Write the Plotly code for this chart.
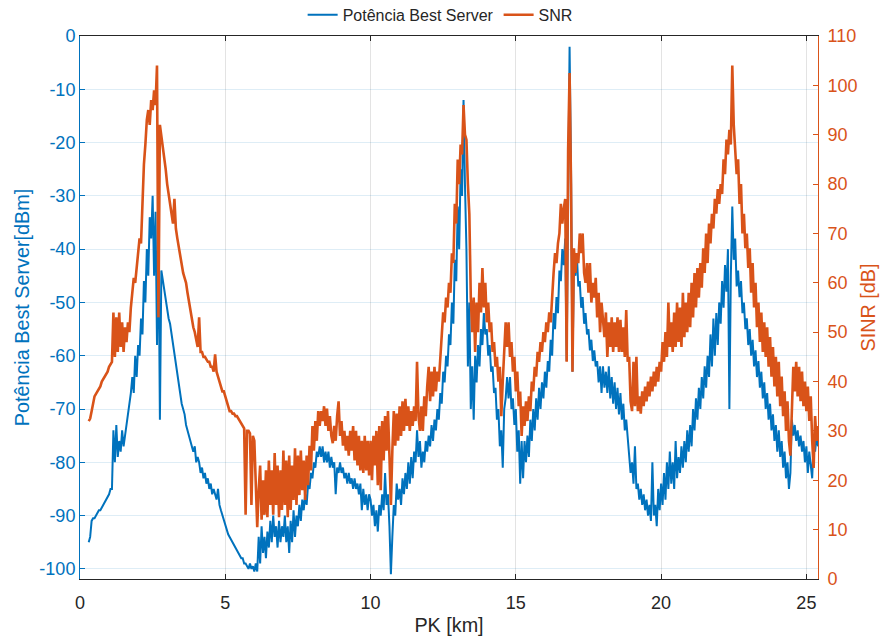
import plotly.graph_objects as go

# PK sampling grid (km), 0.30 ... 25.40
pk = [round(0.3 + 0.05 * i, 2) for i in range(503)]

# Potência Best Server [dBm]
potencia = [
    -95, -94, -91, -90.5, -90.5, -90, -89.5, -89, -89, -88.5, -88, -87.5, -87, -86.5,
    -86, -85, -85, -74, -80, -73, -79, -76, -78, -74, -77, -75, -73, -72, -70, -67, -64, -67, -60, -64,
    -58, -60, -53, -56, -46, -50, -40, -45, -34, -38, -30, -45, -33, -58, -36, -72, -44, -46, -48, -50,
    -51, -53, -54, -56, -58, -60, -62, -64, -65, -67, -69, -70, -71, -73, -74, -75, -76, -77, -78, -77,
    -80, -79, -80, -82, -81, -83, -82, -84, -83, -85, -84, -86, -85, -86, -87, -85, -88, -89, -90, -91,
    -92, -93, -93.5, -94, -94.5, -95, -95.5, -96, -96.5, -97, -97.5, -98, -98, -99, -99, -99.5, -100, -99, -100, -99.5,
    -100.5, -99, -100.5, -94, -99, -92, -97, -94, -98, -93, -96, -91, -95, -90, -94, -92, -96, -91, -95, -92,
    -94, -90, -95, -92, -97, -91, -95, -89, -94, -90, -92, -88, -91, -87, -89, -86, -88, -84, -85, -82,
    -83, -80, -81, -78, -79, -77, -79, -77, -80, -78, -80, -78, -81, -79, -81, -80, -86, -81, -82, -80,
    -82, -81, -83, -82, -84, -82, -84, -83, -85, -83, -85, -84, -86, -84, -89, -85, -88, -86, -89, -86,
    -87, -90, -88, -92, -89, -93, -88, -90, -86, -89, -82, -88, -86, -92, -101, -94, -88, -90, -84, -87,
    -85, -88, -83, -86, -82, -85, -80, -84, -79, -83, -78, -80, -74, -79, -76, -81, -78, -80, -76, -78,
    -75, -77, -73, -76, -72, -74, -70, -72, -67, -69, -63, -65, -60, -62, -56, -58, -50, -54, -42, -46,
    -32, -40, -25, -30, -12, -28, -40, -62, -50, -70, -62, -72, -60, -65, -58, -62, -55, -58, -52, -56,
    -55, -60, -58, -63, -62, -67, -66, -72, -70, -77, -74, -81, -70, -68, -64, -68, -64, -70, -68, -73,
    -70, -78, -74, -84, -76, -83, -76, -80, -75, -79, -72, -76, -70, -74, -68, -72, -66, -70, -65, -68,
    -63, -66, -61, -63, -57, -60, -52, -55, -49, -52, -44, -46, -40, -43, -38, -61, -30, -2, -25, -63,
    -42, -45, -41, -47, -46, -51, -49, -54, -52, -56, -55, -59, -57, -61, -59, -62, -61, -65, -62, -67,
    -62, -66, -63, -67, -62, -68, -64, -69, -65, -70, -66, -71, -67, -72, -69, -74, -72, -76, -78, -82,
    -80, -84, -77, -85, -84, -87, -85, -88, -86, -89, -87, -90, -88, -91, -80, -90, -88, -92, -85, -89,
    -84, -88, -82, -87, -80, -85, -78, -84, -80, -85, -76, -83, -79, -82, -77, -81, -76, -80, -74, -78,
    -73, -77, -70, -74, -68, -72, -66, -70, -64, -68, -62, -66, -60, -64, -56, -62, -53, -60, -52, -58,
    -50, -54, -46, -51, -43, -48, -40, -70, -45, -32, -42, -38, -47, -44, -49, -46, -52, -50, -55, -53,
    -58, -55, -60, -57, -62, -59, -64, -61, -66, -63, -68, -65, -70, -67, -72, -69, -74, -71, -76, -73,
    -78, -74, -79, -76, -81, -78, -83, -80, -85, -82, -72, -75, -73, -76, -74, -77, -75, -78, -76, -80,
    -77, -82, -78, -80, -83, -76, -78, -75, -77,
]

# SNR [dB]
snr = [
    32, 32.5, 34, 36, 37, 37.5, 38, 38.5, 39, 40, 40.5, 41, 41.5, 42,
    43, 43.5, 44, 54, 45, 53, 46, 54, 47, 52, 46, 51, 48, 52, 50, 55, 59, 61, 60, 63,
    66, 69, 68, 78, 84, 88, 93, 95, 92, 97, 95, 99, 96, 104, 53, 92, 90, 88, 85, 83,
    80, 78, 77, 75, 72, 77, 71, 69, 67, 66, 64, 62, 61, 60, 58, 56, 54, 53, 51, 50,
    48, 47, 53, 46, 46, 45, 45, 44.5, 44, 44, 43, 43, 42, 45.5, 42, 41, 40, 39, 38, 38,
    37, 36, 34.5, 34, 34, 33.5, 33.5, 33, 33, 32.5, 32, 31.5, 31, 30.5, 13, 30, 30, 29.5, 15, 29,
    28, 20, 10.5, 18, 23, 12, 20, 13, 22, 12.5, 24, 15, 22, 13, 25.5, 15, 23, 12.5, 22, 14,
    26, 15, 24, 12.5, 25, 14, 23, 16, 26.5, 15, 25, 17, 26, 18, 24, 16, 25, 19, 27, 22,
    31, 26, 32, 28, 34, 31, 34, 32, 35, 31, 34.5, 30, 33, 29, 27.5, 31, 28, 33, 36, 29,
    32, 27, 30, 26, 29, 25, 30, 26, 31, 24, 30, 23, 29, 22, 28, 21.5, 29, 22, 28, 21,
    28, 20, 29, 23, 30, 19, 31, 18, 32, 24, 33, 26, 34, 25, 15, 26, 34, 27, 33.5, 28,
    35, 29, 36, 30, 36.5, 31, 35, 30, 34, 31, 35, 32, 44, 33, 30, 35, 30, 37, 33, 39,
    43, 36, 42, 37, 43, 38, 42, 40, 44, 48, 54, 52, 57, 55, 60, 58, 66, 64, 76, 72,
    85, 80, 88, 86, 96, 90, 89, 80, 74, 57, 50, 57, 46, 56, 50, 60, 54, 63, 55, 60,
    52, 56, 50, 52, 46, 48, 43, 45, 40, 43, 33, 40, 46, 52, 47, 52, 45, 48, 42, 45,
    38, 42, 35, 38, 29, 35, 31, 36, 32, 37, 34, 40, 38, 43, 41, 46, 44, 48, 46, 50,
    48, 52, 50, 54, 52, 58, 62, 66, 64, 68, 70, 76, 72, 75, 77, 44, 87, 102.5, 80, 42,
    67, 62, 66, 64, 70, 66, 70, 62, 60, 64, 58, 64, 56, 60, 57, 61, 53, 58, 50, 56,
    53, 49, 54, 45, 52, 47, 53, 46, 52, 47, 53, 46, 52.5, 46, 51, 45, 54.5, 44, 45, 36,
    34, 44, 35, 45, 34, 37, 33.5, 38, 35, 39, 36, 40, 37, 41, 38, 42, 39, 43, 40, 44,
    42, 48, 44, 50, 45, 56, 47, 52, 46, 54, 47, 56, 48, 55, 47, 58, 49, 56, 50, 58,
    51, 60, 53, 62, 55, 63, 57, 64, 59, 67, 62, 70, 64, 72, 68, 74, 71, 77, 74, 79,
    76, 80, 78, 85, 82, 89, 86, 91, 88, 104, 92, 88, 82, 85, 76, 80, 70, 74, 67, 70,
    63, 67, 58, 64, 55, 60, 51, 56, 48, 54, 46, 52, 45, 51, 43, 49, 41, 47, 39, 45,
    37, 44, 35, 41, 33, 38, 30, 36, 28, 25, 37, 43, 38, 44, 37, 43, 36, 42, 35, 40,
    34, 39, 32, 37, 28, 22.5, 33, 28, 31,
]

n = min(len(pk), len(potencia), len(snr))

x_ticks = [0, 5, 10, 15, 20, 25]
y_ticks = [0, -10, -20, -30, -40, -50, -60, -70, -80, -90, -100]
y_tick_labels = ["0", "-10", "-20", "-30", "-40", "-50", "-60", "-70", "-80", "-90", "-100"]
y2_ticks = [0, 10, 20, 30, 40, 50, 60, 70, 80, 90, 100, 110]

BLUE = "#0072BD"
ORANGE = "#D95319"
DARK = "#262626"
FONT = "Liberation Sans, Arial, Helvetica, sans-serif"

fig = go.Figure()
fig.add_trace(go.Scatter(
    x=pk[:n], y=potencia[:n], mode="lines", name="Potência Best Server",
    line=dict(color=BLUE, width=2.0), yaxis="y"))
fig.add_trace(go.Scatter(
    x=pk[:n], y=snr[:n], mode="lines", name="SNR",
    line=dict(color=ORANGE, width=2.6), yaxis="y2"))

fig.update_layout(
    width=881, height=630,
    paper_bgcolor="white", plot_bgcolor="white",
    margin=dict(l=72, r=71, t=28, b=59, autoexpand=False),
    font=dict(family=FONT, size=18, color=DARK),
    showlegend=True,
    legend=dict(orientation="h", x=0.488, xanchor="center", y=1.039, yanchor="middle",
                font=dict(size=16, color=DARK), bgcolor="rgba(0,0,0,0)",
                tracegroupgap=0),
    xaxis=dict(
        range=[0, 25.4], tickvals=x_ticks, ticks="inside", ticklen=5,
        tickcolor=DARK, showline=True, linecolor=DARK, linewidth=1, mirror="ticks",
        showgrid=True, gridcolor="rgba(38,38,38,0.13)", gridwidth=1, zeroline=False,
        tickfont=dict(size=18, color=DARK), automargin=False, ticklabelstandoff=7,
        title=dict(text="PK [km]", font=dict(size=19.8, color=DARK), standoff=6),
    ),
    yaxis=dict(
        range=[-101.9, 0], tickvals=y_ticks, ticktext=y_tick_labels,
        ticks="inside", ticklen=5,
        tickcolor=BLUE, showline=True, linecolor=BLUE, linewidth=1,
        showgrid=True, gridcolor="rgba(0,114,189,0.13)", gridwidth=1, zeroline=False,
        tickfont=dict(size=18, color=BLUE), automargin=False,
        title=dict(text="Potência Best Server[dBm]", font=dict(size=19.8, color=BLUE), standoff=4),
    ),
    yaxis2=dict(
        range=[0, 110], tickvals=y2_ticks, overlaying="y", side="right",
        ticks="inside", ticklen=5, tickcolor=ORANGE,
        showline=True, linecolor=ORANGE, linewidth=1,
        showgrid=False, zeroline=False, automargin=False, ticklabelstandoff=5,
        tickfont=dict(size=18, color=ORANGE),
        title=dict(text="SINR [dB]", font=dict(size=19.8, color=ORANGE), standoff=4),
    ),
)

fig.write_html("out.html")
